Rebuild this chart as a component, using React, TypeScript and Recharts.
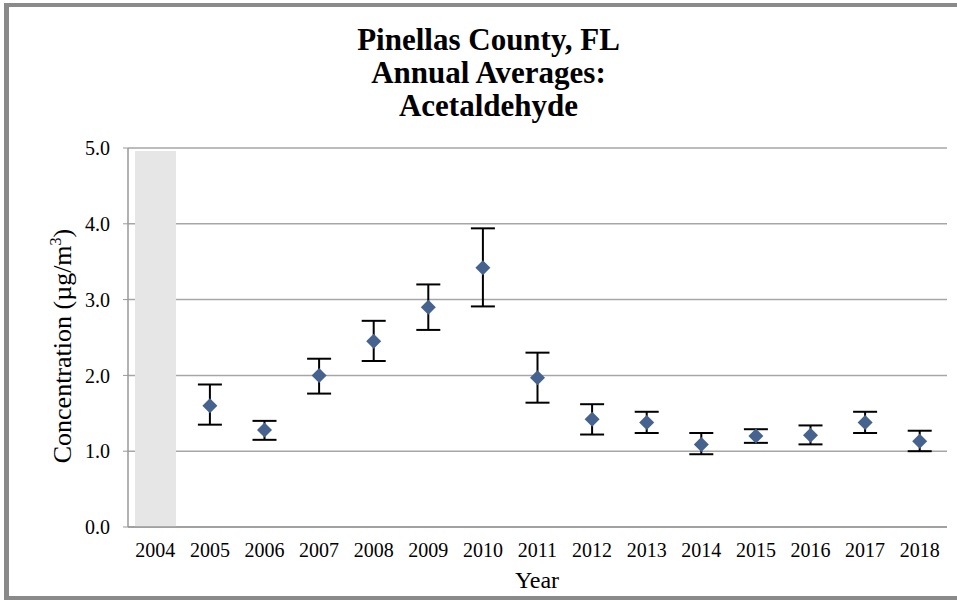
import React from 'react';
import { ComposedChart, Bar, Scatter, ErrorBar, XAxis, YAxis, CartesianGrid, Label } from 'recharts';

const years = ['2004', '2005', '2006', '2007', '2008', '2009', '2010', '2011', '2012', '2013', '2014', '2015', '2016', '2017', '2018'];
const noDataYears = ['2004'];
const noDataHeight = 4.96;
const means = [null, 1.6, 1.28, 2.0, 2.45, 2.9, 3.42, 1.97, 1.42, 1.38, 1.09, 1.2, 1.21, 1.38, 1.13];
const upper = [null, 1.88, 1.4, 2.22, 2.72, 3.2, 3.94, 2.3, 1.62, 1.52, 1.24, 1.29, 1.34, 1.52, 1.27];
const lower = [null, 1.35, 1.15, 1.76, 2.19, 2.6, 2.91, 1.64, 1.22, 1.24, 0.96, 1.11, 1.09, 1.24, 1.0];
const yTicks = [0, 1, 2, 3, 4, 5];
const boundaryTicks = [0, 1, 2, 3, 4, 5, 6, 7, 8, 9, 10, 11, 12, 13, 14, 15];
const titleLines = ['Pinellas County, FL', 'Annual Averages:', 'Acetaldehyde'];

const data = years.map((y, i) => {
  const m = means[i];
  return {
    year: y,
    shade: noDataYears.includes(y) ? noDataHeight : null,
    mean: m,
    err: m == null ? undefined : [+(m - (lower[i] as number)).toFixed(3), +((upper[i] as number) - m).toFixed(3)],
  };
});

const FONT = '"Liberation Serif", "Times New Roman", serif';
const AXIS = '#999999';

const Diamond = (props: any) => {
  const { cx, cy, payload } = props;
  if (!payload || payload.mean == null || cx == null || cy == null || isNaN(cy)) return null;
  const r = 7.5;
  return <path d={`M${cx},${cy - r}L${cx + r},${cy}L${cx},${cy + r}L${cx - r},${cy}Z`} fill="#46638f" />;
};

const YTitle = () => (
  <text x={71} y={346} transform="rotate(-90 71 346)" textAnchor="middle" fontFamily={FONT} fontSize={26} fill="#000">
    <tspan>Concentration (µg/m</tspan>
    <tspan dy={-10} fontSize={16}>3</tspan>
    <tspan dy={10}>)</tspan>
  </text>
);

const XTitle = () => (
  <text x={537} y={588} textAnchor="middle" fontFamily={FONT} fontSize={24} fill="#000">Year</text>
);

export default function App() {
  return (
    <div style={{ position: 'absolute', left: 0, top: 0, width: 957, height: 600, overflow: 'hidden', background: '#fff' }}>
      <div
        style={{
          position: 'absolute', left: 4, top: 3, width: 970, height: 597, boxSizing: 'border-box',
          borderLeft: '5px solid #8a8a8a', borderTop: '4px solid #8a8a8a', borderBottom: '4px solid #8a8a8a',
        }}
      />
      <div
        style={{
          position: 'absolute', left: 0, top: 23, width: 977, textAlign: 'center', fontFamily: FONT,
          fontWeight: 'bold', fontSize: 31, lineHeight: '33px', color: '#000',
        }}
      >
        {titleLines.map((t) => (<div key={t}>{t}</div>))}
      </div>
      <div style={{ position: 'absolute', left: 0, top: 0 }}>
        <ComposedChart width={957} height={600} data={data} margin={{ top: 148, right: 10, bottom: 42, left: 68 }}>
          <CartesianGrid xAxisId="cat" vertical={false} stroke="#a6a6a6" strokeWidth={1.5} />
          <XAxis
            xAxisId="cat" dataKey="year" type="category" height={30} tickLine={false} axisLine={false} tickSize={0} tickMargin={15}
            tick={{ fontFamily: FONT, fontSize: 20, fill: '#000' }} interval={0}
          >
            <Label content={<XTitle />} />
          </XAxis>
          <XAxis
            xAxisId="aTicks" type="number" domain={[0, 15]} ticks={boundaryTicks} height={1}
            tick={false} tickSize={6} tickLine={{ stroke: AXIS }} axisLine={{ stroke: AXIS, strokeWidth: 1.5 }} allowDataOverflow
          />
          <YAxis
            domain={[0, 5]} ticks={yTicks} width={60} tickSize={5} tickMargin={13} tickFormatter={(v: number) => v.toFixed(1)}
            tick={{ fontFamily: FONT, fontSize: 20, fill: '#000' }} tickLine={{ stroke: AXIS }} axisLine={{ stroke: AXIS, strokeWidth: 1.5 }}
            allowDataOverflow
          >
            <Label content={<YTitle />} />
          </YAxis>
          <Bar xAxisId="cat" dataKey="shade" fill="#e6e6e6" barSize={41} isAnimationActive={false} />
          <Scatter xAxisId="cat" dataKey="mean" shape={<Diamond />} isAnimationActive={false}>
            <ErrorBar dataKey="err" direction="y" width={12} stroke="#000" strokeWidth={2} />
          </Scatter>
        </ComposedChart>
      </div>
    </div>
  );
}
